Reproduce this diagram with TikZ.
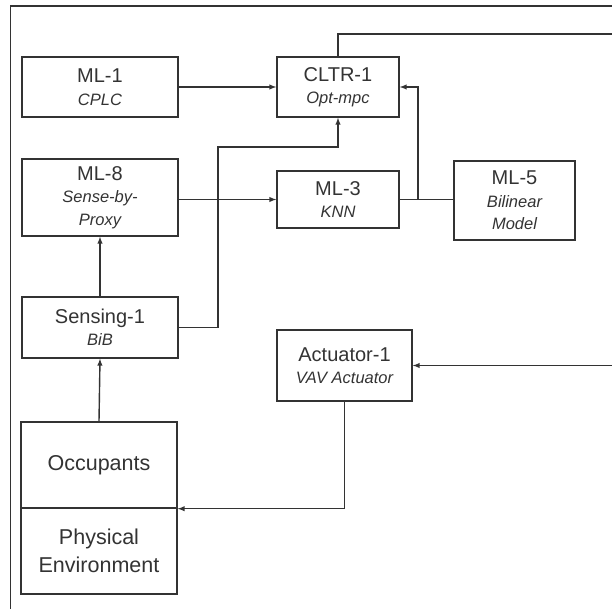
\documentclass[tikz,border=0pt]{standalone}
\usepackage{fontspec}
\setmainfont{Liberation Sans}
\usepackage{tikz}
\usetikzlibrary{arrows}
\newcommand{\ttl}[1]{{\fontsize{20}{24}\selectfont\upshape #1}}

\begin{document}
\begin{tikzpicture}[x=1pt,y=-1pt,>=latex,line width=1.4pt,draw=black!80]
\tikzstyle{block}=[rectangle, draw=black!80, text=black!80, align=center, inner sep=0pt, font=\fontsize{16.5}{22.5}\selectfont\itshape]
\tikzstyle{world}=[block, minimum width=156pt, minimum height=86pt, font=\fontsize{21.5}{28}\selectfont]
\useasboundingbox (0,0) rectangle (612,609);
\draw[black!80] (10.7,609) -- (10.7,6) -- (612,6);

\node[block, minimum width=156pt, minimum height=60pt] (ml1) at (100,87) {\ttl{ML-1}\\CPLC};
\node[block, minimum width=122pt, minimum height=60pt] (cltr) at (338,87) {\ttl{CLTR-1}\\Opt-mpc};
\node[block, minimum width=156pt, minimum height=77pt] (ml8) at (100,197.5) {\ttl{ML-8}\\Sense-by-\\Proxy};
\node[block, minimum width=122pt, minimum height=57pt] (ml3) at (338,199.5) {\ttl{ML-3}\\KNN};
\node[block, minimum width=121pt, minimum height=79pt] (ml5) at (514.5,200.5) {\ttl{ML-5}\\Bilinear\\Model};
\node[block, minimum width=156pt, minimum height=61pt] (sens) at (100,327.5) {\ttl{Sensing-1}\\BiB};
\node[block, minimum width=135pt, minimum height=71pt] (act) at (344.5,365.5) {\ttl{Actuator-1}\\VAV Actuator};
\node[world] (occ) at (99,465) {Occupants};
\node[world] (env) at (99,551) {Physical\\Environment};

\coordinate (junc) at (418,199.5);
\coordinate (bend) at (218,147);
\coordinate (outR) at (612,34);
\coordinate (inR) at (612,365.5);

\draw[->] (ml1.east) -- (cltr.west);
\draw[->] (ml8.east |- ml3.west) -- (ml3.west);
\draw (ml3.east) -- (ml3.east -| ml5.west);
\draw[->] (junc) |- (cltr.east);
\draw[->] (sens.east) -| (bend) -| (cltr.south);
\draw[->] (occ.north) -- (sens.south);
\draw[->] (sens.north) -- (ml8.south);
\draw[->] (act.south) |- (occ.south east);
\draw (cltr.north) |- (outR);
\draw[->] (inR) -- (act.east);
\end{tikzpicture}
\end{document}
